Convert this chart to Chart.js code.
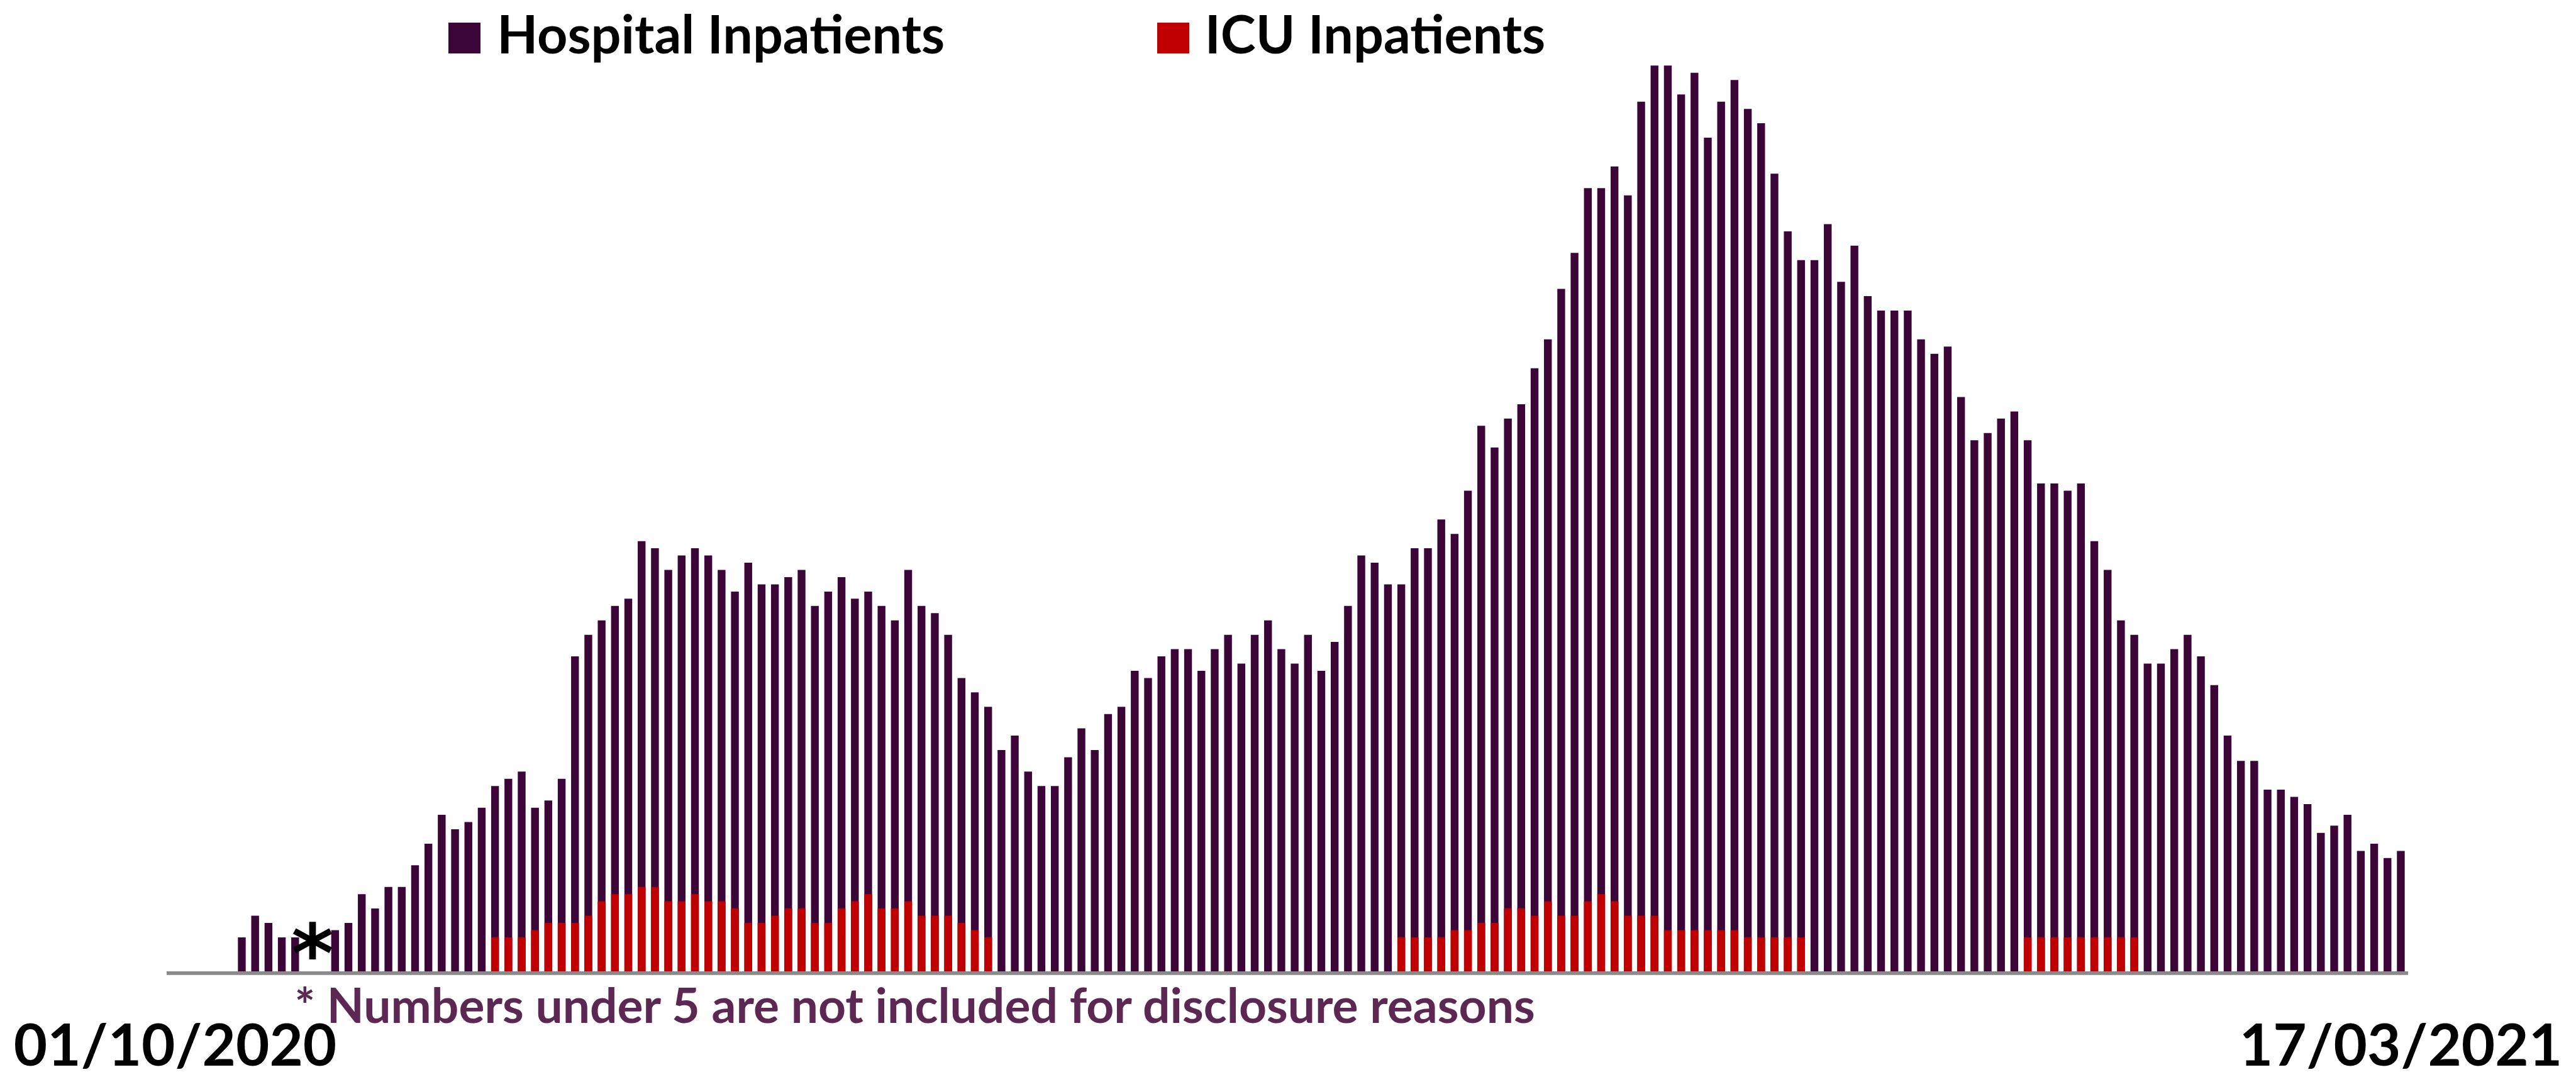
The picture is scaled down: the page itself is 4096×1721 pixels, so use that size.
<!DOCTYPE html>
<html>
<head>
<meta charset="utf-8">
<script src="https://cdn.jsdelivr.net/npm/chart.js@4.4.1/dist/chart.umd.min.js"></script>
<style>
  html, body { margin: 0; padding: 0; background: #ffffff; overflow: hidden; }
  #lienzo { position: relative; width: 4096px; height: 1721px; }
  #caja { position: absolute; left: 0; top: 0; width: 4096px; height: 1721px; }
  .texto { position: absolute; white-space: nowrap; margin: 0; }
  .cuadro { position: absolute; }
</style>
</head>
<body>
<div id="lienzo">
  <div id="caja"><canvas id="graficaHospital"></canvas></div>
  <div class="cuadro" id="cuadroHosp"></div>
  <div class="texto" id="txtHosp"></div>
  <div class="cuadro" id="cuadroUci"></div>
  <div class="texto" id="txtUci"></div>
  <div class="texto" id="txtNota"></div>
  <div class="texto" id="txtAsterisco"></div>
</div>
<script>
// escala: referencia 4800 px -> ventana 4096 px
const K = 4096 / 4800;

// 1. Datos
// un dia por categoria, del 01/10/2020 al 17/03/2021
const dias = [];
for (let d = new Date(Date.UTC(2020, 9, 1)); d <= new Date(Date.UTC(2021, 2, 17)); d.setUTCDate(d.getUTCDate() + 1)) {
  dias.push(String(d.getUTCDate()).padStart(2, "0") + "/" + String(d.getUTCMonth() + 1).padStart(2, "0") + "/" + d.getUTCFullYear());
}

// null = menos de 5 (no se publica)
const hospitalizados = [
  null, null, null, null, null,
  5, 8, 7, 5, 5, null, null,
  6, 7, 11, 9, 12, 12, 15, 18, 22, 20, 21, 23, 26, 27, 28, 23, 24, 27,
  44, 47, 49, 51, 52, 60, 59, 56, 58, 59, 58, 56, 53, 57, 54, 54, 55, 56, 51, 53, 55, 52, 53, 51, 49,
  56, 51, 50, 47, 41, 39, 37, 31, 33, 28, 26, 26, 30, 34, 31, 36, 37, 42, 41, 44, 45, 45, 42, 45, 47,
  43, 47, 49, 45, 43, 47, 42, 46, 51, 58, 57, 54, 54, 59, 59, 63, 61,
  67, 76, 73, 77, 79, 84, 88,
  95, 100, 109, 109, 112, 108, 121, 126, 126, 122, 125, 116, 121, 124, 120, 118, 111, 103, 99, 99, 104, 96, 101, 94, 92, 92,
  92, 88, 86, 87, 80, 74, 75, 77, 78, 74, 68, 68, 67, 68, 60, 56, 49, 47, 43, 43, 45, 47, 44, 40, 33,
  29.5, 29.5, 25.5, 25.5, 24.5, 23.5, 19.5, 20.5, 22, 17, 18, 16, 17
];

const uci = [
  null, null, null, null, null, null, null, null, null, null, null, null,
  null, null, null, null, null, null, null, null, null, null, null, null,
  5, 5, 5, 6, 7, 7, 7, 8, 10, 11, 11, 12, 12, 10, 10, 11, 10, 10, 9, 7, 7, 8, 9, 9, 7, 7, 9, 10, 11, 9, 9, 10, 8, 8, 8, 7, 6, 5,
  null, null, null, null, null, null, null, null, null, null, null, null, null, null, null,
  null, null, null, null, null, null, null, null, null, null, null, null, null, null, null,
  5, 5, 5, 5, 6, 6, 7, 7, 9, 9, 8, 10, 8, 8, 10, 11, 10, 8, 8, 8, 6, 6, 6, 6, 6, 6, 5, 5, 5, 5, 5,
  null, null, null, null, null, null, null, null, null, null, null, null, null, null, null, null,
  5, 5, 5, 5, 5, 5, 5, 5, 5,
  null, null, null, null, null, null, null, null, null, null, null, null, null, null, null, null, null, null, null, null
];

const etiquetasVisibles = [dias[0], dias[dias.length - 1]];

const colorHosp = "#3c0537";
const colorUci = "#c00000";

// 2. Grafica
const ctx = document.getElementById("graficaHospital").getContext("2d");
new Chart(ctx, {
  type: "bar",
  data: {
    labels: dias,
    datasets: [
      { label: "ICU Inpatients", data: uci, backgroundColor: colorUci, order: 0, grouped: false,
        barPercentage: 0.585, categoryPercentage: 1 },
      { label: "Hospital Inpatients", data: hospitalizados, backgroundColor: colorHosp, order: 1, grouped: false,
        barPercentage: 0.585, categoryPercentage: 1 }
    ]
  },
  options: {
    responsive: true,
    maintainAspectRatio: false,
    animation: false,
    devicePixelRatio: 1,
    layout: { padding: { left: 314 * K, right: 314 * K, top: 68.6 * K, bottom: 0 } },
    plugins: { legend: { display: false }, tooltip: { enabled: false } },
    scales: {
      x: {
        grid: { display: false, drawTicks: false },
        border: { display: true, color: "#8a8a8a", width: 6.7 * K, z: 1 },
        ticks: {
          autoSkip: false, maxRotation: 0, minRotation: 0,
          padding: 61.5,
          color: "#000000",
          font: { family: "Lato", weight: "bold", size: 108 * K },
          callback: (v, i) => etiquetasVisibles.includes(dias[i]) && (i === 0 || i === dias.length - 1) ? dias[i] : ""
        },
        afterFit: (escala) => {
          escala.height = (2017 - 1814.5) * K;
          escala.paddingLeft = 0;
          escala.paddingRight = 0;
        }
      },
      y: { display: false, min: 0, max: 130 }
    }
  }
});

// 3. Textos en HTML, colocados por linea base
const medidor = document.createElement("canvas").getContext("2d");

function colocarTexto(id, texto, x, base, size, color, familia) {
  const el = document.getElementById(id);
  const fuente = `bold ${size}px ${familia}`;
  medidor.font = fuente;
  const m = medidor.measureText(texto);
  const asc = m.fontBoundingBoxAscent, desc = m.fontBoundingBoxDescent;
  el.textContent = texto;
  el.style.font = fuente;
  el.style.lineHeight = (asc + desc) + "px";
  el.style.left = x + "px";
  el.style.top = (base - asc) + "px";
  el.style.color = color;
}

function colocarCuadro(id, x, y, w, h, color) {
  const el = document.getElementById(id);
  el.style.left = x + "px";
  el.style.top = y + "px";
  el.style.width = w + "px";
  el.style.height = h + "px";
  el.style.background = color;
}

colocarCuadro("cuadroHosp", 835 * K, 42 * K, 60 * K, 58 * K, colorHosp);
colocarTexto("txtHosp", "Hospital Inpatients", 926 * K, 100 * K, 99 * K, "#000000", "Lato");
colocarCuadro("cuadroUci", 2156 * K, 42 * K, 60 * K, 58 * K, colorUci);
colocarTexto("txtUci", "ICU Inpatients", 2245 * K, 100 * K, 99 * K, "#000000", "Lato");

colocarTexto("txtNota", "* Numbers under 5 are not included for disclosure reasons", 549 * K, 1906.7 * K, 90 * K, "#5c2853", "Lato");

// asterisco grande sobre el hueco de datos
(function () {
  const familia = '"DejaVu Sans"';
  medidor.font = `bold 100px ${familia}`;
  let m = medidor.measureText("*");
  const size = 100 * (71 * K) / (m.actualBoundingBoxAscent + m.actualBoundingBoxDescent);
  medidor.font = `bold ${size}px ${familia}`;
  m = medidor.measureText("*");
  const cx = 582 * K, cy = 1753 * K;
  const x0 = cx - (m.actualBoundingBoxRight - m.actualBoundingBoxLeft) / 2;
  const base = cy + (m.actualBoundingBoxAscent - m.actualBoundingBoxDescent) / 2;
  colocarTexto("txtAsterisco", "*", x0, base, size, "#000000", familia);
})();
</script>
</body>
</html>
